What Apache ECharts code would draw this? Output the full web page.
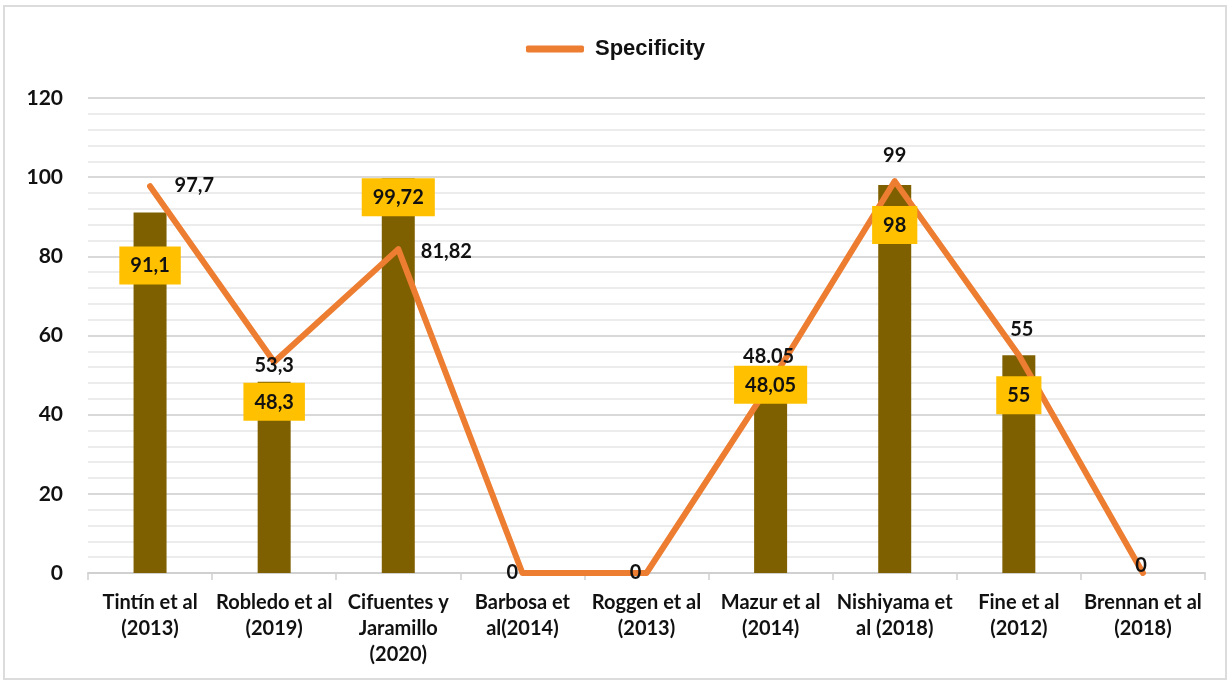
<!DOCTYPE html>
<html>
<head>
<meta charset="utf-8">
<script src="https://cdn.jsdelivr.net/npm/echarts@6/dist/echarts.min.js"></script>
<style>
  html, body { margin: 0; padding: 0; background: #ffffff; }
  #frame { position: absolute; left: 3px; top: 5px; width: 1224px; height: 675px; border: 2px solid #dcdcdc; box-sizing: border-box; }
  #chart { position: absolute; left: 0; top: 0; width: 1231px; height: 684px; }
</style>
</head>
<body>
<div id="frame"></div>
<div id="chart"></div>
<script>
const categories = [
  'Tintín et al\n(2013)', 'Robledo et al\n(2019)', 'Cifuentes y\nJaramillo\n(2020)',
  'Barbosa et\nal(2014)', 'Roggen et al\n(2013)', 'Mazur et al\n(2014)',
  'Nishiyama et\nal (2018)', 'Fine et al\n(2012)', 'Brennan et al\n(2018)'
];
const barValues = [91.1, 48.3, 99.72, 0, 0, 48.05, 98, 55, 0];
const barLabels = ['91,1', '48,3', '99,72', '', '', '48,05', '98', '55', ''];
const specificity = [97.7, 53.3, 81.82, 0, 0, 48.05, 99, 55, 0];
const specLabels = ['97,7', '53,3', '81,82', '0', '0', '48.05', '99', '55', '0'];
const yTicks = [0, 20, 40, 60, 80, 100, 120];

// label placement styles (not data)
const barLabelOffsetY = [34, 1, 0, 0, 0, -17, 21, 21, 0];
const lineLabelStyle = [
  { position: 'right', distance: 24, offset: [0, -1] },
  { position: 'inside', offset: [0, 4] },
  { position: 'right', distance: 22, offset: [0, 2] },
  { position: 'inside', offset: [-10, 0] },
  { position: 'inside', offset: [-11, 0] },
  { position: 'top', distance: 16, offset: [-2, 0] },
  { position: 'top', distance: 15, offset: [0, 0] },
  { position: 'top', distance: 15, offset: [3, 0] },
  { position: 'inside', offset: [-2, -7] }
];

const chart = echarts.init(document.getElementById('chart'), null, { renderer: 'canvas' });

const labelFont = 'Lato, "Open Sans", sans-serif';

const overlayData = barValues.map((v, i) => ({
  value: v,
  label: {
    show: barLabels[i] !== '',
    position: 'insideTop',
    distance: 0,
    offset: [0, barLabelOffsetY[i]],
    formatter: () => barLabels[i],
    backgroundColor: '#ffc000',
    padding: [9, 11, 8, 11],
    color: '#111111',
    fontFamily: labelFont,
    fontWeight: 'bold',
    fontSize: 20,
    lineHeight: 21
  }
}));

const lineData = specificity.map((v, i) => ({
  value: v,
  label: Object.assign({
    show: true,
    formatter: () => specLabels[i],
    color: '#111111',
    fontFamily: labelFont,
    fontWeight: 'bold',
    fontSize: 20
  }, lineLabelStyle[i])
}));

chart.setOption({
  animation: false,
  backgroundColor: 'transparent',
  legend: {
    data: [{ name: 'Specificity', icon: 'roundRect', itemStyle: { color: '#ed7d31' } }],
    top: 33,
    left: 'center',
    itemWidth: 58,
    itemHeight: 7,
    itemGap: 10,
    textStyle: { fontFamily: '"Liberation Sans", Arial, sans-serif', fontWeight: 'bold', fontSize: 22, color: '#111111', padding: [0, 0, 0, 6] }
  },
  grid: { left: 88, right: 26, top: 98, bottom: 111, containLabel: false },
  xAxis: {
    type: 'category',
    data: categories,
    boundaryGap: true,
    axisLine: { show: true, lineStyle: { color: '#d0d0d0', width: 2 } },
    axisTick: { show: true, alignWithLabel: false, length: 7, lineStyle: { color: '#d0d0d0', width: 1.5 } },
    axisLabel: {
      interval: 0,
      margin: 17,
      color: '#111111',
      fontFamily: labelFont,
      fontWeight: 'bold',
      fontSize: 20,
      lineHeight: 26
    },
    splitLine: { show: false }
  },
  yAxis: {
    type: 'value',
    min: yTicks[0],
    max: yTicks[yTicks.length - 1],
    interval: yTicks[1] - yTicks[0],
    axisLine: { show: false },
    axisTick: { show: false },
    axisLabel: {
      margin: 25,
      color: '#111111',
      fontFamily: labelFont,
      fontWeight: 'bold',
      fontSize: 21,
      formatter: v => String(v)
    },
    splitLine: { show: true, lineStyle: { color: '#d9d9d9', width: 2 } },
    minorTick: { show: false, splitNumber: 5 },
    minorSplitLine: { show: true, lineStyle: { color: '#ececec', width: 2 } }
  },
  series: [
    {
      name: 'Studies',
      type: 'bar',
      data: barValues,
      barWidth: 33,
      itemStyle: { color: '#7f6000' },
      z: 2
    },
    {
      name: 'Specificity',
      type: 'line',
      data: lineData,
      showSymbol: true,
      symbol: 'circle',
      symbolSize: 1,
      itemStyle: { color: '#ed7d31' },
      lineStyle: { color: '#ed7d31', width: 6, cap: 'round', join: 'round' },
      z: 4
    },
    {
      name: 'labels',
      type: 'bar',
      data: overlayData,
      barWidth: 33,
      barGap: '-100%',
      itemStyle: { color: 'rgba(0,0,0,0)' },
      z: 6,
      silent: true
    }
  ]
});
</script>
</body>
</html>
